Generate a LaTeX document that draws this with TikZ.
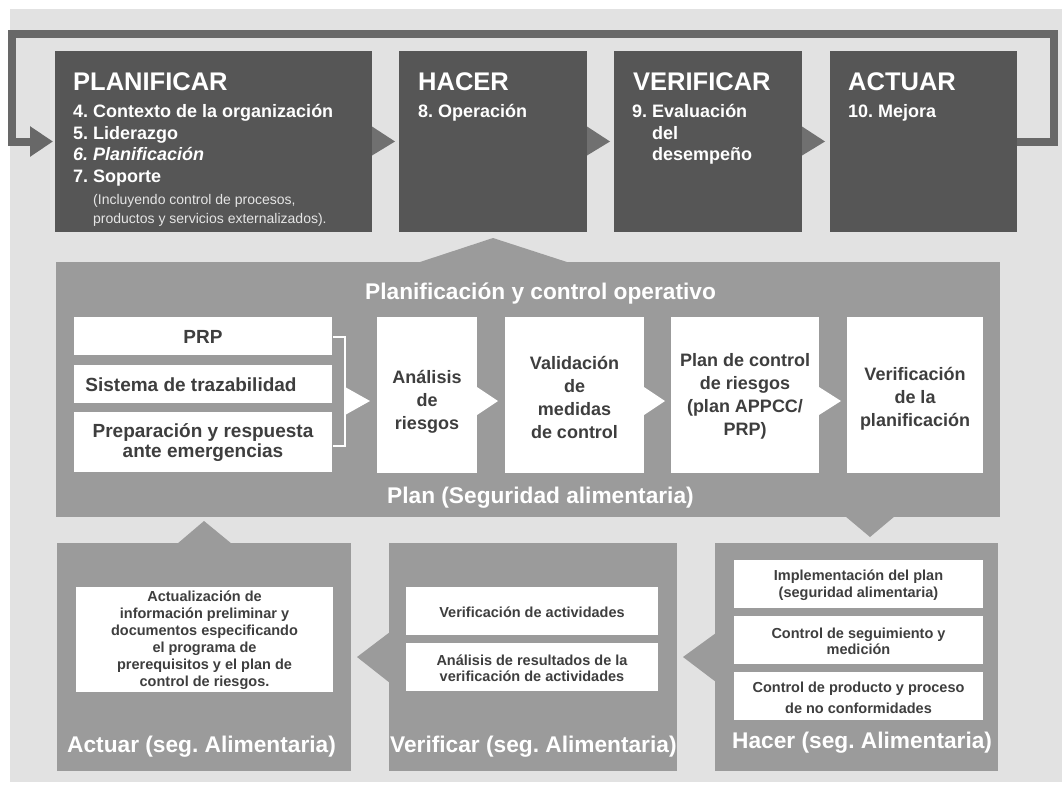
\documentclass[tikz,border=0pt]{standalone}
\usepackage{fontspec}
\setmainfont{Liberation Sans}
\usetikzlibrary{arrows.meta,calc,fit}
\definecolor{bgc}{HTML}{E2E2E2}
\definecolor{dark}{HTML}{565656}
\definecolor{loopc}{HTML}{686868}
\definecolor{tarr}{HTML}{707070}
\definecolor{panelc}{HTML}{9B9B9B}
\definecolor{txt}{HTML}{3E3E3E}
\frenchspacing
\begin{document}
\begin{tikzpicture}[x=1pt,y=-1pt,
  dbox/.style={fill=dark, draw=none, inner sep=0pt, outer sep=0pt},
  gbox/.style={fill=panelc, draw=none, inner sep=0pt, outer sep=0pt},
  wbox/.style={fill=white, draw=none, inner sep=0pt, outer sep=0pt},
  ttl/.style={anchor=base west, inner sep=0pt, text=white, font=\fontsize{25.5}{30}\selectfont\bfseries},
  itm/.style={anchor=base west, inner sep=0pt, text=white, font=\fontsize{18}{22}\selectfont\bfseries},
  sml/.style={anchor=base west, inner sep=0pt, text=white!90!black, font=\fontsize{14}{19}\selectfont},
  midl/.style={inner sep=0pt, text=txt, align=center, font=\fontsize{19}{20}\selectfont\bfseries},
  mid/.style={inner sep=0pt, text=txt, align=center, font=\fontsize{18}{23}\selectfont\bfseries},
  sm/.style={inner sep=0pt, text=txt, align=center, font=\fontsize{14.5}{17}\selectfont\bfseries},
  big/.style={anchor=base west, inner sep=0pt, text=white, font=\fontsize{22.7}{27}\selectfont\bfseries},
  looparrow/.style={draw=loopc, line width=8pt, -{Triangle[length=23pt,width=29pt]}, shorten >=2pt},
]
\useasboundingbox (0,0) rectangle (1062,785);
\fill[white] (0,0) rectangle (1062,785);
\fill[bgc] (10,9) rectangle (1062,782);

% top PDCA boxes
\node[dbox, fit={(55,51) (372,232)}] (planif) {};
\node[dbox, fit={(399,51) (587,232)}] (hacer) {};
\node[dbox, fit={(614,51) (802,232)}] (verif) {};
\node[dbox, fit={(830,51) (1017,232)}] (actuar) {};

% loop connector
\coordinate (c1) at (1054,141.5);
\coordinate (c2) at (1054,34);
\coordinate (c3) at (12,34);
\coordinate (c4) at (12,141.5);
\draw[looparrow] (actuar.east) -- (c1) -- (c2) -- (c3) -- (c4) -- (planif.west);

% arrows between top boxes
\fill[tarr] ($(planif.east)+(0,-15)$) -- ($(hacer.west)+(-4,0)$) -- ($(planif.east)+(0,14)$) -- cycle;
\fill[tarr] ($(hacer.east)+(0,-15)$) -- ($(verif.west)+(-4,0)$) -- ($(hacer.east)+(0,14)$) -- cycle;
\fill[tarr] ($(verif.east)+(0,-15)$) -- ($(actuar.west)+(-5,0)$) -- ($(verif.east)+(0,14)$) -- cycle;

% texts of top boxes
\node[ttl] at ($(planif.north west)+(18,39)$) {PLANIFICAR};
\node[itm] at ($(planif.north west)+(18,66)$) {4. Contexto de la organización};
\node[itm] at ($(planif.north west)+(18,88)$) {5. Liderazgo};
\node[itm] at ($(planif.north west)+(18,109)$) {\itshape 6. Planificación};
\node[itm] at ($(planif.north west)+(18,131)$) {7. Soporte};
\node[sml] at ($(planif.north west)+(38,153)$) {(Incluyendo control de procesos,};
\node[sml] at ($(planif.north west)+(38,172)$) {productos y servicios externalizados).};

\node[ttl] at ($(hacer.north west)+(19,39)$) {HACER};
\node[itm] at ($(hacer.north west)+(19,66)$) {8. Operación};

\node[ttl] at ($(verif.north west)+(19,39)$) {VERIFICAR};
\node[itm] at ($(verif.north west)+(18,66)$) {9. Evaluación};
\node[itm] at ($(verif.north west)+(38,88)$) {del};
\node[itm] at ($(verif.north west)+(38,109)$) {desempeño};

\node[ttl] at ($(actuar.north west)+(18,39)$) {ACTUAR};
\node[itm] at ($(actuar.north west)+(18,66)$) {10. Mejora};

% middle panel
\node[gbox, fit={(56,262) (1000,517)}] (pc) {};
\fill[panelc] ($(hacer.south |- pc.north)+(-76,1)$) -- ($(hacer.south)+(0,6)$) -- ($(hacer.south |- pc.north)+(77,1)$) -- cycle;
\fill[panelc] ($(pc.south east)+(-155,-1)$) -- ($(pc.south east)+(-130,20)$) -- ($(pc.south east)+(-105,-1)$) -- cycle;

\node[big] at (365,299) {Planificación y control operativo};
\node[big] at (387,503) {Plan (Seguridad alimentaria)};

\node[wbox, fit={(74,317) (332,355)}] (prp) {};
\node[wbox, fit={(74,365) (332,403)}] (traz) {};
\node[wbox, fit={(74,412) (332,472)}] (prep) {};
\node[wbox, fit={(377,317) (477,473)}] (anal) {};
\node[wbox, fit={(505,317) (644,473)}] (valid) {};
\node[wbox, fit={(671,317) (819,473)}] (planc) {};
\node[wbox, fit={(847,317) (983,473)}] (verpl) {};

\node[midl] at ($(prp.center)+(0,1)$) {PRP};
\node[midl] at ($(traz.center)+(-12,1)$) {Sistema de trazabilidad};
\node[midl] at ($(prep.center)+(0,1)$) {Preparación y respuesta\\ante emergencias};
\node[mid] at ($(anal.center)+(0,7)$) {Análisis\\de\\riesgos};
\node[mid] at ($(valid.center)+(0,2)$) {Validación\\de\\medidas\\de control};
\node[mid] at ($(planc.center)+(0,1)$) {Plan de control\\de riesgos\\(plan APPCC/\\PRP)};
\node[mid] at ($(verpl.center)+(0,4)$) {Verificación\\de la\\planificación};

% bracket and white arrows
\coordinate (br) at ($(prp.east)!0.5!(prep.east)+(13,12)$);
\draw[white, line width=1.3pt] ($(prp.east)+(1,1)$) -- ++(12,0) |- ($(prep.east)+(1,4)$);
\fill[white] ($(br)+(0,-14)$) -- ($(anal.west |- br)+(-7,0)$) -- ($(br)+(0,14)$) -- cycle;
\fill[white] ($(anal.east)+(0,-8)$) -- ($(valid.west)+(-7,6)$) -- ($(anal.east)+(0,20)$) -- cycle;
\fill[white] ($(valid.east)+(0,-8)$) -- ($(planc.west)+(-6,6)$) -- ($(valid.east)+(0,20)$) -- cycle;
\fill[white] ($(planc.east)+(0,-8)$) -- ($(verpl.west)+(-6,6)$) -- ($(planc.east)+(0,20)$) -- cycle;

% bottom boxes
\node[gbox, fit={(57,543) (351,771)}] (actb) {};
\node[gbox, fit={(389,543) (677,771)}] (verb) {};
\node[gbox, fit={(715,543) (998,771)}] (hacb) {};

\fill[panelc] ($(actb.north)+(-27,1)$) -- ($(actb.north)+(0,-22)$) -- ($(actb.north)+(28,1)$) -- cycle;
\fill[panelc] ($(verb.west)+(1,-25)$) -- ($(actb.east)+(6,0)$) -- ($(verb.west)+(1,26)$) -- cycle;
\fill[panelc] ($(hacb.west)+(1,-24)$) -- ($(verb.east)+(6,0)$) -- ($(hacb.west)+(1,25)$) -- cycle;

\node[wbox, fit={(76,587) (333,692)}] (actw) {};
\node[wbox, fit={(406,587) (658,635)}] (verw1) {};
\node[wbox, fit={(406,643) (658,691)}] (verw2) {};
\node[wbox, fit={(734,560) (983,608)}] (hacw1) {};
\node[wbox, fit={(734,616) (983,664)}] (hacw2) {};
\node[wbox, fit={(734,672) (983,720)}] (hacw3) {};

\node[sm] at ($(actw.center)+(0,1)$) {Actualización de\\información preliminar y\\documentos especificando\\el programa de\\prerequisitos y el plan de\\control de riesgos.};
\node[sm] at ($(verw1.center)+(0,1)$) {Verificación de actividades};
\node[sm, font=\fontsize{14.5}{16}\selectfont\bfseries] at ($(verw2.center)+(0,1)$) {Análisis de resultados de la\\verificación de actividades};
\node[sm] at ($(hacw1.center)+(0,1)$) {Implementación del plan\\(seguridad alimentaria)};
\node[sm, font=\fontsize{14.5}{16}\selectfont\bfseries] at ($(hacw2.center)+(0,1)$) {Control de seguimiento y\\medición};
\node[sm, font=\fontsize{14.5}{21}\selectfont\bfseries] at ($(hacw3.center)+(0,2)$) {Control de producto y proceso\\de no conformidades};

\node[big] at (67,752) {Actuar (seg. Alimentaria)};
\node[big] at (390,752) {Verificar (seg. Alimentaria)};
\node[big] at (732,748) {Hacer (seg. Alimentaria)};
\end{tikzpicture}
\end{document}
